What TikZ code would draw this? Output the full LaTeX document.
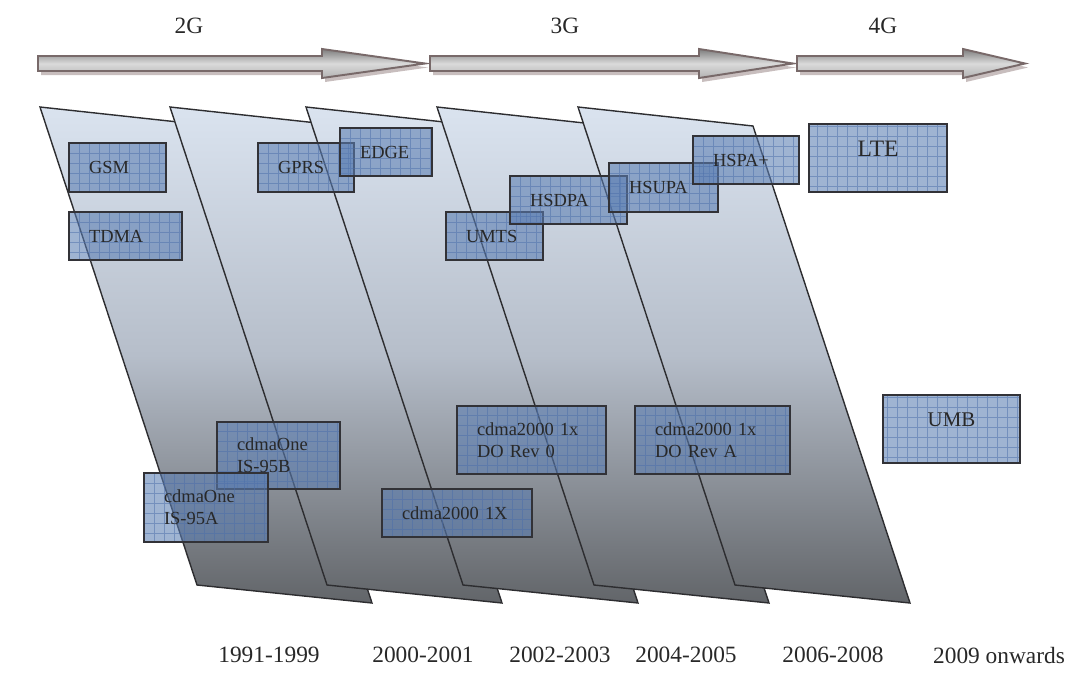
\documentclass[tikz,border=0pt]{standalone}
\usepackage{fontspec}
\setmainfont{Liberation Serif}
\definecolor{panelline}{RGB}{45,45,48}
\definecolor{paneltop}{RGB}{218,227,239}
\definecolor{panelmid}{RGB}{182,190,202}
\definecolor{panelbot}{RGB}{98,101,105}
\definecolor{boxfill}{RGB}{90,125,178}
\definecolor{boxgrid}{RGB}{75,110,170}
\definecolor{boxline}{RGB}{50,50,55}
\definecolor{arrowline}{RGB}{120,105,105}
\definecolor{arrowshadow}{RGB}{200,190,190}
\definecolor{arrowdark}{RGB}{125,125,125}
\definecolor{arrowlight}{RGB}{218,218,218}
\definecolor{arrowlow}{RGB}{178,178,178}
\definecolor{textgrey}{RGB}{40,40,40}

\begin{document}
\begin{tikzpicture}[x=0.02cm, y=-0.02cm,
  panel/.style={draw=panelline, line width=0.8pt,
    top color=paneltop, bottom color=panelbot, middle color=panelmid},
  genarrow/.style={draw=arrowline, line width=1.1pt,
    top color=arrowdark, bottom color=arrowlow, middle color=arrowlight},
  gen/.style={text=textgrey, font=\fontsize{13.3}{15}\selectfont},
  era/.style={text=textgrey, font=\fontsize{13.3}{15}\selectfont},
  techbox/.style={draw=boxline, line width=1pt, fill=boxfill,
    fill opacity=0.58, text opacity=1, text=textgrey, inner sep=0pt,
    align=left, font=\fontsize{10.5}{12.5}\selectfont,
    path picture={\draw[boxgrid, draw opacity=0.5, line width=0.3pt, step=0.2cm]
      (path picture bounding box.south west) grid (path picture bounding box.north east);}},
  bigbox/.style={techbox, align=center}]
  \useasboundingbox (0,0) rectangle (1075,674);

  % generation arrows
  \foreach \s/\h/\t in {38/322/425, 430/699/793, 797/963/1025} {
    \fill[arrowshadow, shift={(3,4)}] (\s,56) -- (\h,56) -- (\h,49) -- (\t,63.5)
      -- (\h,78) -- (\h,71) -- (\s,71) -- cycle;
    \shadedraw[genarrow] (\s,56) -- (\h,56) -- (\h,49) -- (\t,63.5)
      -- (\h,78) -- (\h,71) -- (\s,71) -- cycle;
  }
  \node[gen] (g2) at (189,26) {2G};
  \node[gen] (g3) at (565,26) {3G};
  \node[gen] (g4) at (883,26) {4G};

  % time slices
  \foreach \p in {40,170,306,437,578}
    \shadedraw[panel] (\p,107) -- ++(175,19) -- ++(157,477) -- ++(-175,-18) -- cycle;

  % GSM family
  \node[techbox, minimum width=1.94cm, minimum height=0.98cm, text width=1.14cm]
    (gsm) at (117.5,167.5) {GSM};
  \node[techbox, minimum width=2.26cm, minimum height=0.96cm, text width=1.46cm]
    (tdma) at (125.5,236) {TDMA};
  \node[techbox, minimum width=1.92cm, minimum height=0.98cm, text width=1.12cm]
    (gprs) at (306,167.5) {GPRS};
  \node[techbox, minimum width=1.84cm, minimum height=0.96cm, text width=1.04cm]
    (edge) at (386,152) {EDGE};
  \node[techbox, minimum width=1.94cm, minimum height=0.96cm, text width=1.14cm]
    (umts) at (494.5,236) {UMTS};
  \node[techbox, minimum width=2.34cm, minimum height=0.96cm, text width=1.54cm]
    (hsdpa) at (568.5,200) {HSDPA};
  \node[techbox, minimum width=2.18cm, minimum height=0.98cm, text width=1.38cm]
    (hsupa) at (663.5,187.5) {HSUPA};
  \node[techbox, minimum width=2.12cm, minimum height=0.96cm, text width=1.32cm]
    (hspap) at (746,160) {HSPA+};
  \node[bigbox, minimum width=2.76cm, font=\fontsize{13.4}{15}\selectfont,
    text height=18.6pt, text depth=20.1pt] (lte) at (878,158) {LTE};

  % CDMA family
  \node[techbox, minimum width=2.46cm, minimum height=1.34cm, text width=1.66cm]
    (is95b) at (278.5,455.5) {cdmaOne\\IS-95B};
  \node[techbox, minimum width=2.48cm, minimum height=1.38cm, text width=1.68cm]
    (is95a) at (206,507.5) {cdmaOne\\IS-95A};
  \node[techbox, minimum width=3.0cm, minimum height=0.96cm, text width=2.2cm]
    (onex) at (457,513) {cdma2000 1X};
  \node[techbox, minimum width=2.98cm, minimum height=1.36cm, text width=2.18cm]
    (rev0) at (531.5,440) {cdma2000 1x\\DO Rev 0};
  \node[techbox, minimum width=3.1cm, minimum height=1.36cm, text width=2.3cm]
    (reva) at (712.5,440) {cdma2000 1x\\DO Rev A};
  \node[bigbox, minimum width=2.74cm, font=\fontsize{11.9}{14}\selectfont,
    text height=18.1pt, text depth=20.6pt] (umb) at (951.5,429) {UMB};

  % years
  \node[era] (y1) at (269,655) {1991-1999};
  \node[era] (y2) at (423,655) {2000-2001};
  \node[era] (y3) at (560,655) {2002-2003};
  \node[era] (y4) at (686,655) {2004-2005};
  \node[era] (y5) at (833,655) {2006-2008};
  \node[era] (y6) at (999,655) {2009 onwards};
\end{tikzpicture}
\end{document}
